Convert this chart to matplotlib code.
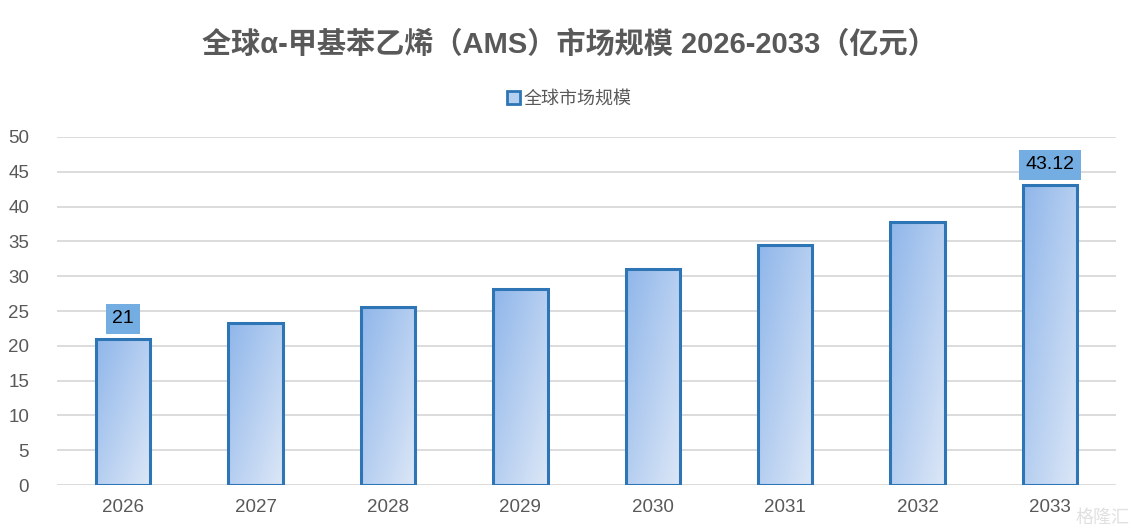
import matplotlib
matplotlib.use("Agg")
import matplotlib.pyplot as plt
import numpy as np
from matplotlib.colors import LinearSegmentedColormap
from matplotlib.patches import Rectangle

FAM = ['Liberation Sans', 'Noto Sans CJK SC', 'DejaVu Sans']
plt.rcParams['font.family'] = FAM

years = ['2026', '2027', '2028', '2029', '2030', '2031', '2032', '2033']
values = [21, 23.3, 25.6, 28.2, 31.1, 34.5, 37.8, 43.12]
labeled = {0: '21', 7: '43.12'}
title = '全球α-甲基苯乙烯（AMS）市场规模 2026-2033（亿元）'
series_name = '全球市场规模'

fig = plt.figure(figsize=(11.39, 5.32), dpi=100)
ax = fig.add_axes([0.05, 0.0883, 0.93, 0.6542])
x = np.arange(len(years))
bars = ax.bar(x, values, width=0.41, facecolor='none', edgecolor='#2e75b6',
              linewidth=2.2, zorder=3, label=series_name)

cmap = LinearSegmentedColormap.from_list('g', ['#8fb6ea', '#dce7f7'])
gx, gy = np.meshgrid(np.linspace(0, 1, 50), np.linspace(0, 1, 200))
grad = (gx + gy) / 2.0
for b in bars:
    x0, w, h = b.get_x(), b.get_width(), b.get_height()
    im = ax.imshow(grad, cmap=cmap, extent=[x0, x0 + w, 0, h], origin='upper',
                   aspect='auto', zorder=2)
    im.set_clip_path(b)

ax.set_xlim(-0.5, len(years) - 0.5)
ax.set_ylim(0, 50)
ax.set_yticks(range(0, 51, 5))
ax.set_xticks(x)
ax.set_xticklabels(years)
ax.tick_params(axis='both', length=0, labelsize=13.5, labelcolor='#595959')
ax.tick_params(axis='x', pad=10)
ax.tick_params(axis='y', pad=20)
ax.grid(axis='y', color='#d9d9d9', linewidth=1.3, zorder=0)
for s in ax.spines.values():
    s.set_visible(False)

for i, t in labeled.items():
    ax.annotate(t, (x[i], values[i]), xytext=(0, 14.5), textcoords='offset points',
                ha='center', va='center', fontsize=14, color='#000000',
                bbox=dict(boxstyle='square,pad=0.33', facecolor='#74ade1',
                          edgecolor='none'), zorder=5)

fig.text(0.5, 0.915, title, ha='center', va='center', fontsize=21,
         fontweight='bold', color='#595959')

handle = Rectangle((0, 0), 1, 1, facecolor='#b5cff0', edgecolor='#2e75b6', linewidth=2)
fig.legend([handle], [series_name], loc='center', bbox_to_anchor=(0.5, 0.813),
           frameon=False, fontsize=13, handlelength=0.7, handleheight=0.7,
           handletextpad=0.2, labelcolor='#595959')

fig.text(0.968, 0.025, '格隆汇', ha='center', va='center', fontsize=13,
         color='#dddddd', alpha=0.9)

fig.savefig('out.png', dpi=100)
